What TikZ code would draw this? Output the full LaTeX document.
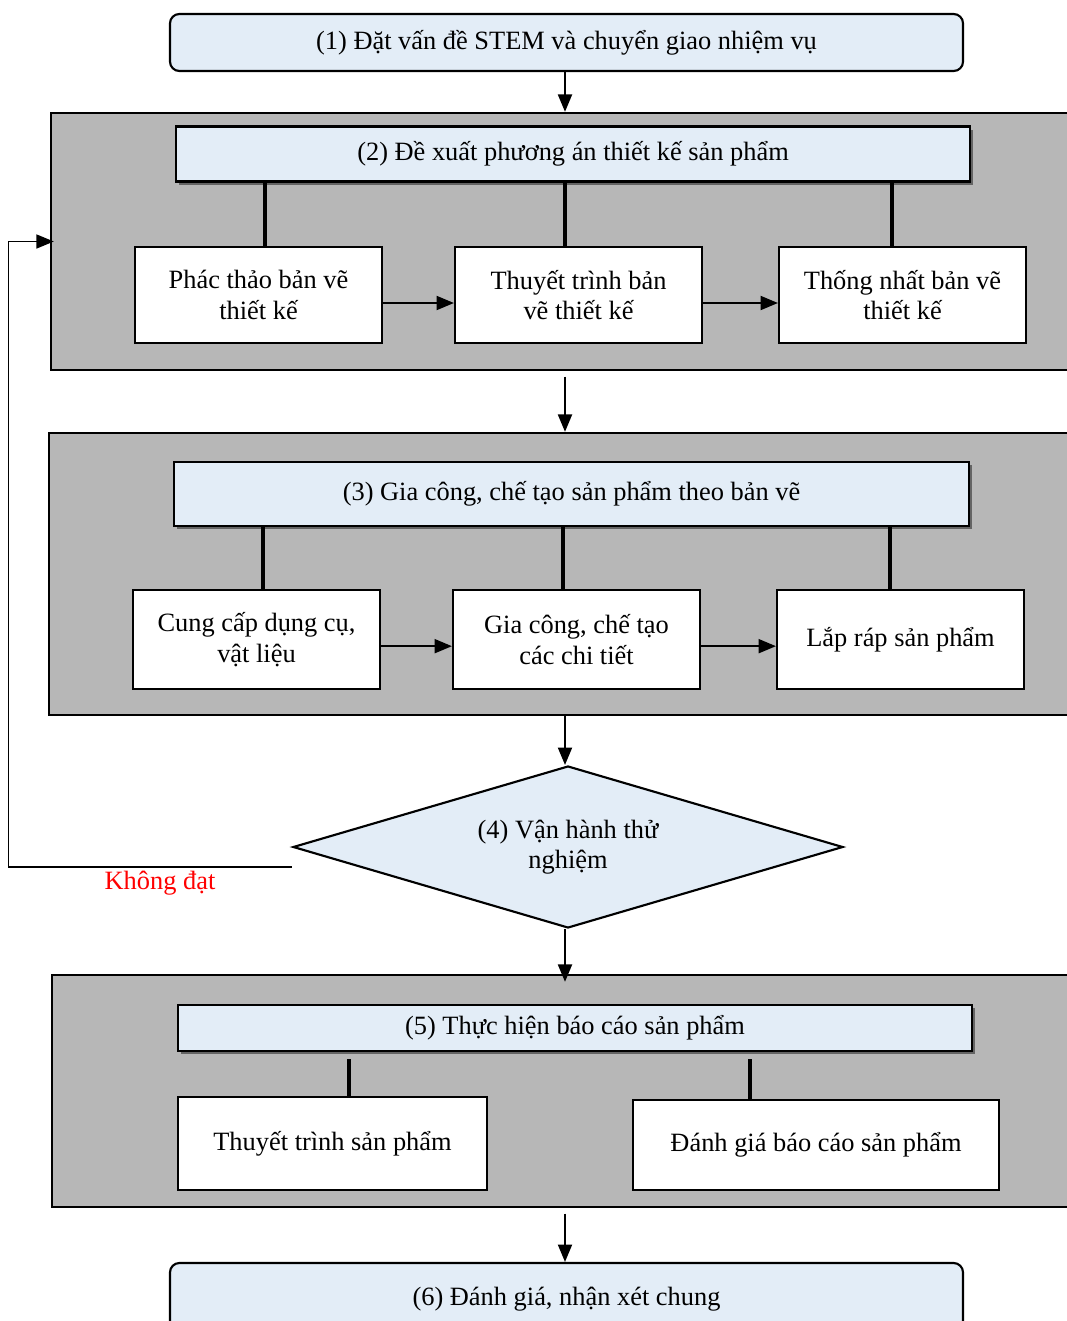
\documentclass[tikz,border=0pt]{standalone}
\usepackage{fontspec}
\setmainfont{Liberation Serif}
\usetikzlibrary{arrows.meta,shapes.geometric,shadows,calc}
\definecolor{lb}{RGB}{227,237,247}
\definecolor{gp}{RGB}{183,183,183}
\begin{document}
\begin{tikzpicture}[x=0.75pt,y=-0.75pt,
  font=\fontsize{19.8}{23}\selectfont,
  mainbox/.style={draw, line width=1.6pt, fill=lb, rounded corners=7pt, minimum width=594.75pt, inner sep=0pt, align=center},
  grp/.style={draw, line width=1.8pt, fill=gp, inner sep=0pt},
  hdr/.style={draw, line width=1.6pt, fill=lb, inner sep=0pt, minimum width=595.5pt,
    drop shadow={shadow xshift=2.5pt, shadow yshift=-2.5pt, fill=black, opacity=0.45}},
  subbox/.style={draw, line width=1.6pt, fill=white, inner sep=0pt, align=center, minimum width=185.25pt, minimum height=72pt},
  conn/.style={line width=3.2pt},
  arr/.style={line width=1.4pt, -{Triangle[length=13pt,width=10.5pt]}},
  fb/.style={line width=1pt, -{Triangle[length=13pt,width=10.5pt]}}]
\clip (0,0) rectangle (1067,1321);
\useasboundingbox (0,0) rectangle (1067,1321);
\fill[white] (0,0) rectangle (1067,1321);
\coordinate (col) at (565,0);

% (1)
\node[mainbox, minimum height=42.75pt] (n1) at (566.5,42.5) {(1) Đặt vấn đề STEM và chuyển giao nhiệm vụ};

% group 2
\node[grp, minimum width=768pt, minimum height=192.75pt] (g2) at (563,241.5) {};
\node[hdr, minimum height=41.25pt] (h2) at (573,154) {(2) Đề xuất phương án thiết kế sản phẩm};
\node[subbox] (a2) at (258.5,295) {Phác thảo bản vẽ\\thiết kế};
\node[subbox] (b2) at (578.5,295) {Thuyết trình bản\\vẽ thiết kế};
\node[subbox] (c2) at (902.5,295) {Thống nhất bản vẽ\\thiết kế};
\draw[conn] ([xshift=4.9pt]a2.north) -- ([xshift=4.9pt]a2.north |- h2.south);
\draw[conn] ([xshift=-10.1pt]b2.north) -- ([xshift=-10.1pt]b2.north |- h2.south);
\draw[conn] ([xshift=-7.9pt]c2.north) -- ([xshift=-7.9pt]c2.north |- h2.south);
\draw[arr] ([yshift=-6pt]a2.east) -- ([yshift=-6pt]b2.west);
\draw[arr] ([yshift=-6pt]b2.east) -- ([yshift=-6pt]c2.west);

% group 3
\node[grp, minimum width=769.5pt, minimum height=211.5pt] (g3) at (562,574) {};
\node[hdr, minimum width=596.25pt, minimum height=48pt] (h3) at (571.5,494) {(3) Gia công, chế tạo sản phẩm theo bản vẽ};
\node[subbox, minimum height=74.25pt] (a3) at (256.5,639.5) {Cung cấp dụng cụ,\\vật liệu};
\node[subbox, minimum height=74.25pt] (b3) at (576.5,639.5) {Gia công, chế tạo\\các chi tiết};
\node[subbox, minimum height=74.25pt] (c3) at (900.5,639.5) {Lắp ráp sản phẩm};
\draw[conn] ([xshift=4.9pt]a3.north) -- ([xshift=4.9pt]a3.north |- h3.south);
\draw[conn] ([xshift=-10.1pt]b3.north) -- ([xshift=-10.1pt]b3.north |- h3.south);
\draw[conn] ([xshift=-7.9pt]c3.north) -- ([xshift=-7.9pt]c3.north |- h3.south);
\draw[arr] ([yshift=-5pt]a3.east) -- ([yshift=-5pt]b3.west);
\draw[arr] ([yshift=-5pt]b3.east) -- ([yshift=-5pt]c3.west);

% (4) diamond
\node[diamond, aspect=3.4, draw, line width=1.6pt, fill=lb, inner sep=0pt, align=center,
  minimum width=412.5pt, minimum height=121.5pt] (d4) at (568,847) {(4) Vận hành thử\\nghiệm};

% group 5
\node[grp, minimum width=767.25pt, minimum height=174pt] (g5) at (563.5,1091) {};
\node[hdr, minimum height=34.5pt] (h5) at (575,1028) {(5) Thực hiện báo cáo sản phẩm};
\node[subbox, minimum width=231.75pt, minimum height=69.75pt] (a5) at (332.5,1143.5) {Thuyết trình sản phẩm};
\node[subbox, minimum width=274.5pt, minimum height=67.5pt] (b5) at (816,1145) {Đánh giá báo cáo sản phẩm};
\draw[conn] ([xshift=12.4pt]a5.north) -- ([xshift=12.4pt,yshift=-5pt]a5.north |- h5.south);
\draw[conn] ([xshift=-49.5pt]b5.north) -- ([xshift=-49.5pt,yshift=-5pt]b5.north |- h5.south);

% (6)
\node[mainbox, minimum height=54pt] (n6) at (566.5,1299) {\raisebox{3pt}{(6) Đánh giá, nhận xét chung}};

% main flow arrows
\draw[arr] (n1.south -| col) -- (g2.north -| col);
\draw[arr] ([yshift=-4pt]g2.south -| col) -- (g3.north -| col);
\draw[arr] (g3.south -| col) -- (d4.north -| col);
\draw[arr] (d4.south -| col) -- ([yshift=-6pt]g5.north -| col);
\draw[arr] ([yshift=-4pt]g5.south -| col) -- (n6.north -| col);

% feedback
\draw[fb] ([yshift=-15pt]d4.west) -| ([xshift=-31pt]g2.west) -- ([xshift=3pt]g2.west);
\node[text=red] (kd) at (160,883) {Không đạt};
\end{tikzpicture}
\end{document}
